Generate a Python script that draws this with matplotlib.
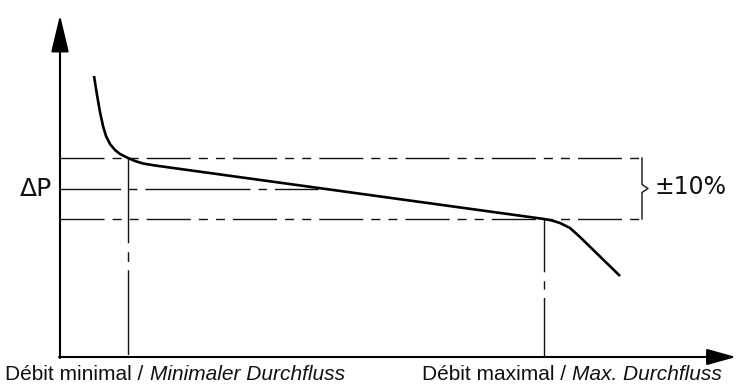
# Pressure drop vs flow sketch (DeltaP +-10% band between min and max flow)
import matplotlib
matplotlib.use("Agg")
import matplotlib.pyplot as plt

plt.rcParams['lines.scale_dashes'] = False

# curve (flow, pressure drop), origin at the axes corner
flow = [34, 37, 40, 43, 46, 50, 55, 60, 68, 75, 83, 95, 484, 492, 500, 510, 520, 537, 560]
dp = [281, 262, 245, 231, 221, 213, 207, 203, 199, 196, 193.5, 191.5,
      138, 136.5, 134, 129, 120, 103.4, 81]

flow_min = 68
flow_max = 484
dp_high = 199
dp_nom = 168
dp_low = 138
band_end = 582      # where the dashed band lines stop (bracket position)
nom_end = 258       # nominal line stops just past the curve
x_axis_end = 676
y_axis_end = 342

label_min = ("Débit minimal /", "Minimaler Durchfluss")
label_max = ("Débit maximal /", "Max. Durchfluss")

fig = plt.figure(figsize=(7.37, 3.85), dpi=100)
ax = fig.add_axes([0, 0, 1, 1])
ax.set_xlim(-60, 677)
ax.set_ylim(-28, 357)
ax.axis('off')

thin = dict(color='#111111', lw=1.0)
band_dash = (0, (31.7, 5.8, 6.5, 5.8, 6.5, 5.8))
nom_dash = (32, (75.6, 5.8, 6.0, 5.8))

# band lines (+-10%)
ax.plot([0, band_end], [dp_high, dp_high], linestyle=band_dash, **thin)
ax.plot([0, band_end], [dp_low, dp_low], linestyle=band_dash, **thin)
ax.plot([0, nom_end], [dp_nom, dp_nom], linestyle=nom_dash, **thin)

# vertical drops to min / max flow, drawn top-down
ax.plot([flow_min, flow_min], [dp_high, 0], linestyle=(0, (61, 6.5, 7, 6)), **thin)
ax.plot([flow_max, flow_max], [dp_low, 0], linestyle=(23, (61, 6.5, 6, 6)), **thin)

# curly bracket on the band
mid = (dp_high + dp_low) / 2.0
ax.plot([band_end, band_end, band_end + 6, band_end, band_end],
        [dp_high, mid + 4, mid, mid - 4, dp_low], **thin)

# the curve
ax.plot(flow, dp, color='black', lw=1.9, solid_joinstyle='round', solid_capstyle='butt')

# axes with arrows
ax.annotate('', xy=(0, y_axis_end), xytext=(0, -1),
            arrowprops=dict(arrowstyle='-|>,head_length=2.3,head_width=0.55',
                            mutation_scale=10, lw=1.5, color='black',
                            shrinkA=0, shrinkB=0))
ax.annotate('', xy=(x_axis_end, 0), xytext=(-1, 0),
            arrowprops=dict(arrowstyle='-|>,head_length=1.8,head_width=0.5',
                            mutation_scale=10, lw=1.5, color='black',
                            shrinkA=0, shrinkB=0))

ax.text(-8, dp_nom, "ΔP", fontsize=18, ha='right', va='center', color='#111')
ax.text(595, dp_nom + 2, "±10%", fontsize=17, ha='left', va='center', color='#111')

lab = dict(fontsize=15, family='Liberation Sans', color='#111111')
t1 = ax.text(-55, -23, label_min[0], ha='left', va='baseline', **lab)
ax.annotate(label_min[1], xy=(1, 0), xycoords=t1, xytext=(4.5, 0),
            textcoords='offset points', ha='left', va='bottom', style='italic', **lab)

t2 = ax.text(662, -23, label_max[1], ha='right', va='baseline', style='italic', **lab)
ax.annotate(label_max[0], xy=(0, 0), xycoords=t2, xytext=(-4.5, 0),
            textcoords='offset points', ha='right', va='bottom', **lab)

fig.savefig('out.png', dpi=100)
